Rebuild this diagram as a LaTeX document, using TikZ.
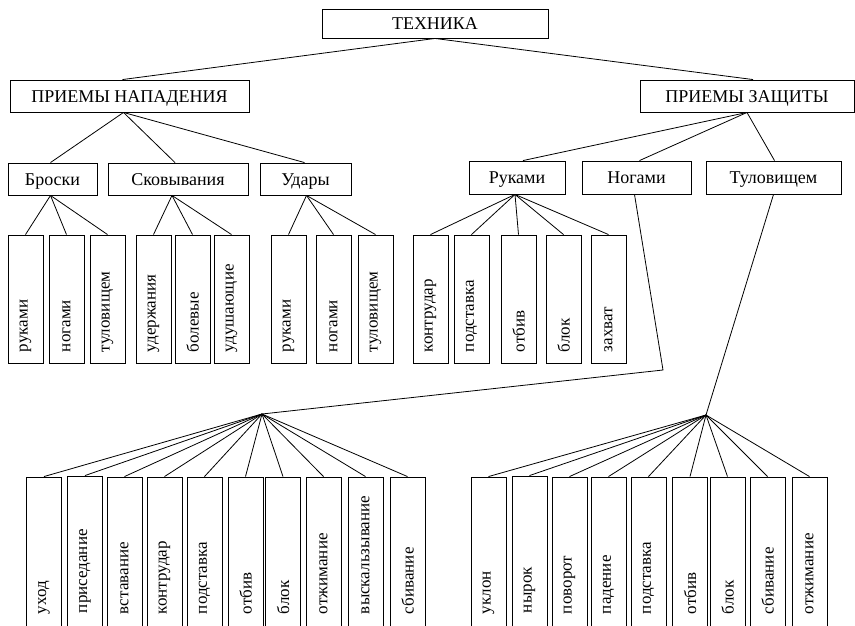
\documentclass[tikz,border=0pt]{standalone}
\usepackage{fontspec}
\setmainfont{Liberation Serif}
\begin{document}
\begin{tikzpicture}[x=1pt,y=-1pt,
  every node/.style={font=\fontsize{17}{20}\selectfont},
  hbox/.style={draw, line width=0.9pt, inner sep=0pt, minimum height=#1,
    text height=12pt, text depth=0pt, font=\fontsize{18}{21}\selectfont},
  hbox/.default=32pt,
  vshort/.style={draw, line width=0.9pt, rotate=90, minimum height=35pt,
    text width=106pt, inner xsep=11pt, inner ysep=0pt, align=left},
  vlong/.style={draw, line width=0.9pt, rotate=90, minimum height=35pt,
    text width=119pt, inner xsep=18pt, inner ysep=0pt, align=left},
  link/.style={line width=0.8pt}]

\useasboundingbox (0,0) rectangle (855,625);
\fill[white] (0,0) rectangle (855,625);
\clip (0,0) rectangle (855,625);

% root and the two main branches
\node[hbox=29pt, minimum width=226pt] (tech) at (435,23.5) {ТЕХНИКА};
\node[hbox, minimum width=239pt] (att) at (129.5,96) {ПРИЕМЫ НАПАДЕНИЯ};
\node[hbox, minimum width=214pt] (def) at (747,96) {ПРИЕМЫ ЗАЩИТЫ};

% second level
\node[hbox, minimum width=89pt]  (throw) at (52.5,179) {Броски};
\node[hbox, minimum width=140pt] (hold)  at (178,179)  {Сковывания};
\node[hbox, minimum width=91pt]  (hit)   at (305.5,179) {Удары};
\node[hbox=33pt, minimum width=96pt]  (dhand) at (517,177.5) {Руками};
\node[hbox=33pt, minimum width=109pt] (dleg)  at (636.5,177.5) {Ногами};
\node[hbox=33pt, minimum width=135pt] (dbody) at (773.5,177.5) {Туловищем};

% third level, attack
\node[vshort] (t1) at (25.5,299)  {руками};
\node[vshort] (t2) at (66.5,299)  {ногами};
\node[vshort] (t3) at (107.5,299) {туловищем};
\node[vshort] (h1) at (153.5,299) {удержания};
\node[vshort] (h2) at (192.5,299) {болевые};
\node[vshort] (h3) at (231.5,299) {удушающие};
\node[vshort] (s1) at (288.5,299) {руками};
\node[vshort] (s2) at (333.5,299) {ногами};
\node[vshort] (s3) at (375.5,299) {туловищем};

% third level, defence with hands
\node[vshort] (r1) at (430.5,299) {контрудар};
\node[vshort] (r2) at (471.5,299) {подставка};
\node[vshort] (r3) at (518.5,299) {отбив};
\node[vshort] (r4) at (563.5,299) {блок};
\node[vshort] (r5) at (608.5,299) {захват};

% bottom row, defence with legs
\node[vlong] (l1)  at (44,554.5)    {уход};
\node[vlong] (l2)  at (85,553.5)    {приседание};
\node[vlong] (l3)  at (124.5,554.5) {вставание};
\node[vlong] (l4)  at (164.5,554.5) {контрудар};
\node[vlong] (l5)  at (204.5,554.5) {подставка};
\node[vlong] (l6)  at (245.5,554.5) {отбив};
\node[vlong] (l7)  at (283,554.5)   {блок};
\node[vlong] (l8)  at (323.5,554.5) {отжимание};
\node[vlong] (l9)  at (365.5,554.5) {выскальзывание};
\node[vlong] (l10) at (407.5,554.5) {сбивание};

% bottom row, defence with body
\node[vlong] (b1) at (488.5,554.5) {уклон};
\node[vlong] (b2) at (529.5,553.5) {нырок};
\node[vlong] (b3) at (569.5,554.5) {поворот};
\node[vlong] (b4) at (608.5,554.5) {падение};
\node[vlong] (b5) at (648.5,554.5) {подставка};
\node[vlong] (b6) at (690,554.5)   {отбив};
\node[vlong] (b7) at (727.5,554.5) {блок};
\node[vlong] (b8) at (767.5,554.5) {сбивание};
\node[vlong] (b9) at (809.5,554.5) {отжимание};

% junction points of the lower fans
\coordinate (bend) at (663,370);
\coordinate (hubL) at (262,414);
\coordinate (hubR) at (706,415);

% connectors
\draw[link] (tech.south) -- ([xshift=-7pt]att.north);
\draw[link] (tech.south) -- ([xshift=6pt]def.north);

\draw[link] ([xshift=-6pt]att.south) -- ([xshift=-2pt]throw.north);
\draw[link] ([xshift=-6pt]att.south) -- ([xshift=-3pt]hold.north);
\draw[link] ([xshift=-6pt]att.south) -- ([xshift=-1pt]hit.north);

\draw[link] (def.south) -- ([xshift=6pt]dhand.north);
\draw[link] (def.south) -- ([xshift=3pt]dleg.north);
\draw[link] (def.south) -- ([xshift=1pt]dbody.north);

\foreach \c in {t1,t2,t3} \draw[link] ([xshift=-2pt]throw.south) -- (\c.east);
\foreach \c in {h1,h2,h3} \draw[link] ([xshift=-6pt]hold.south) -- (\c.east);
\foreach \c in {s1,s2,s3} \draw[link] ([xshift=1pt]hit.south) -- (\c.east);
\foreach \c in {r1,r2,r3,r4,r5} \draw[link] ([xshift=-2pt]dhand.south) -- (\c.east);

\draw[link] ([xshift=-2pt]dleg.south) -- (bend) -- (hubL);
\foreach \c in {l1,l2,l3,l4,l5,l6,l7,l8,l9,l10} \draw[link] (hubL) -- (\c.east);

\draw[link] (dbody.south) -- (hubR);
\foreach \c in {b1,b2,b3,b4,b5,b6,b7,b8,b9} \draw[link] (hubR) -- (\c.east);
\end{tikzpicture}
\end{document}
